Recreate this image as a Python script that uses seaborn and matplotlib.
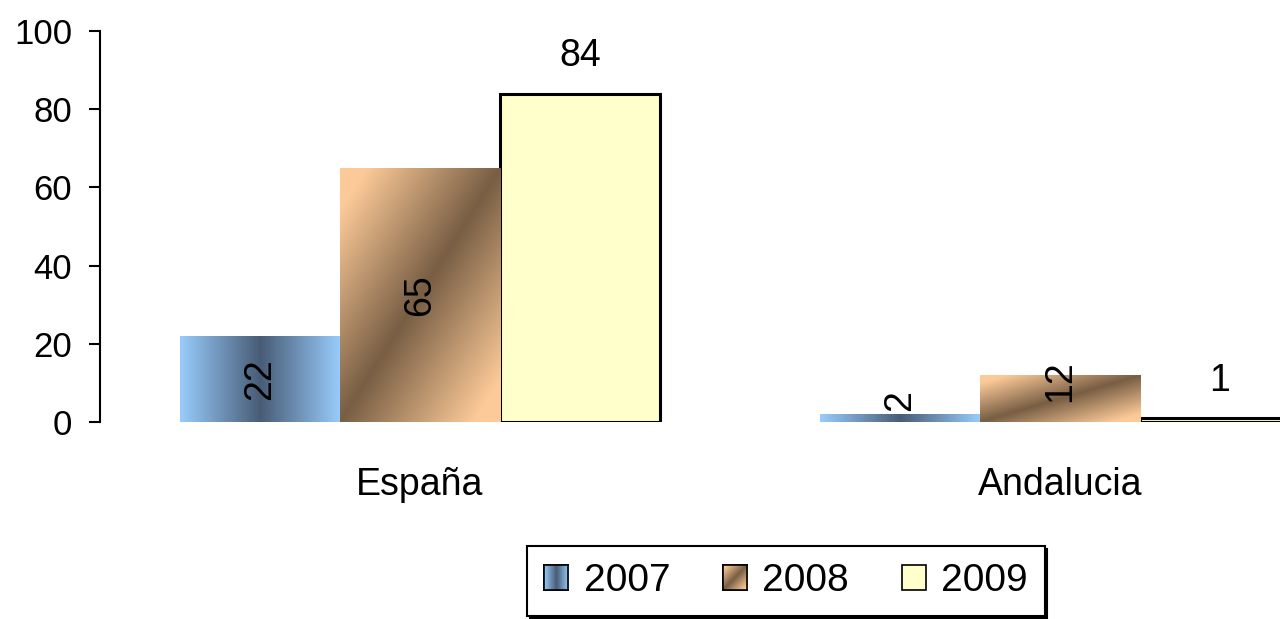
import numpy as np
import pandas as pd
import seaborn as sns
import matplotlib.pyplot as plt
from matplotlib.patches import Patch

# datos
regions = ['España', 'Andalucia']
years = ['2007', '2008', '2009']
v2007 = [22, 2]
v2008 = [65, 12]
v2009 = [84, 1]

base_colors = {'2007': '#6E8DB0', '2008': '#B08A64', '2009': '#FFFFCC'}
blue_light = np.array([153, 204, 252]) / 255
blue_dark = np.array([72, 92, 118]) / 255
peach_light = np.array([252, 202, 152]) / 255
brown_dark = np.array([120, 94, 68]) / 255


def grad_2007(n=200):
    t = np.abs(np.linspace(-1, 1, n))
    row = blue_dark + (blue_light - blue_dark) * t[:, None]
    return np.tile(row[None, :, :], (2, 1, 1))


def grad_2008(n=200):
    xs = np.linspace(0, 1, n)
    ys = np.linspace(0, 1, n)
    X, Y = np.meshgrid(xs, ys)
    t = np.clip(np.abs(X - Y) * 1.2, 0, 1)
    return brown_dark + (peach_light - brown_dark) * t[:, :, None]


df = pd.DataFrame({
    'region': regions * 3,
    'year': [y for y in years for _ in regions],
    'value': v2007 + v2008 + v2009,
})

sns.set_style('white')
plt.rcParams['font.family'] = ['Liberation Sans', 'DejaVu Sans']
plt.rcParams['text.color'] = 'black'
plt.rcParams['xtick.color'] = 'black'
plt.rcParams['ytick.color'] = 'black'
plt.rcParams['xtick.labelcolor'] = 'black'
plt.rcParams['ytick.labelcolor'] = 'black'

fig = plt.figure(figsize=(12.8, 6.19), dpi=100)
ax = fig.add_axes([0.078, 0.318, 0.922, 0.632])

sns.barplot(data=df, x='region', y='value', hue='year', hue_order=years,
            order=regions, palette=base_colors, width=0.75, gap=0, saturation=1,
            edgecolor='none', ax=ax)
ax.get_legend().remove()

grads = {'2007': grad_2007(), '2008': grad_2008()}
for year, cont in zip(years, ax.containers):
    for bar, val in zip(cont.patches, cont.datavalues):
        x, y = bar.get_x(), bar.get_y()
        w, h = bar.get_width(), bar.get_height()
        if year in grads:
            im = ax.imshow(grads[year], extent=(x, x + w, y, y + h), origin='lower',
                           aspect='auto', interpolation='bilinear', zorder=bar.get_zorder() + 0.1)
            im.set_clip_path(bar)
            lab_y = val / 2 if val >= 20 else val / 2 + 4.5
            ax.text(x + w / 2, lab_y, f'{val:.0f}', rotation=90, ha='center', va='center',
                    fontsize=27, zorder=5)
        else:
            bar.set_edgecolor('black')
            bar.set_linewidth(2.2)
            ax.annotate(f'{val:.0f}', (x + w / 2, y + h), xytext=(0, 27),
                        textcoords='offset points', ha='center', va='center', fontsize=27)

ax.set_xlim(-0.5, 1.34375)
ax.set_ylim(0, 100)
ax.set_yticks([0, 20, 40, 60, 80, 100])
ax.set_xlabel('')
ax.set_ylabel('')
sns.despine(ax=ax, bottom=True)
ax.spines['left'].set_color('black')
ax.spines['left'].set_linewidth(1.5)
ax.tick_params(axis='y', direction='out', length=8, width=1.5, pad=12,
               labelsize=25, left=True)
ax.tick_params(axis='x', length=0, pad=32, labelsize=27)

handles = [Patch(facecolor=base_colors[y], edgecolor='black', linewidth=1.2, label=y)
           for y in years]
leg = fig.legend(handles=handles, loc='center', bbox_to_anchor=(0.614, 0.0615), ncol=3,
                 fontsize=28, frameon=True, fancybox=False, edgecolor='black',
                 shadow={'color': 'black', 'alpha': 1}, handlelength=0.62, handleheight=0.62,
                 handletextpad=0.4, columnspacing=1.35, borderpad=0.43)
leg.get_frame().set_linewidth(1.5)
leg.get_frame().set_alpha(1)

# degradado en los cuadros de la leyenda
fig.canvas.draw()
renderer = fig.canvas.get_renderer()
for year, h in zip(years, leg.legend_handles):
    if year not in grads:
        continue
    bb = h.get_window_extent(renderer).transformed(fig.transFigure.inverted())
    hax = fig.add_axes([bb.x0, bb.y0, bb.width, bb.height], zorder=10)
    hax.imshow(grads[year], aspect='auto', origin='lower', extent=(0, 1, 0, 1),
               interpolation='bilinear')
    hax.set_xticks([])
    hax.set_yticks([])
    for s in hax.spines.values():
        s.set_color('black')
        s.set_linewidth(1.2)

fig.savefig('out.png', dpi=100)
